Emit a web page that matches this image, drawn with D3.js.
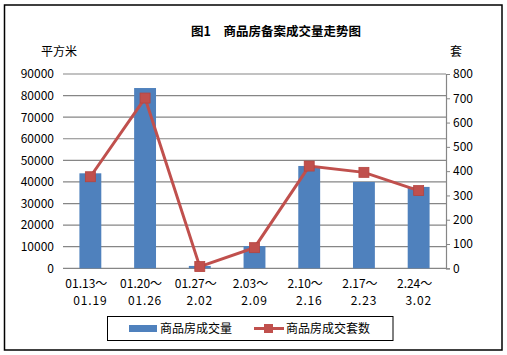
<!DOCTYPE html>
<html><head><meta charset="utf-8">
<script src="https://cdn.jsdelivr.net/npm/d3@7"></script>
<style>body{margin:0;background:#fff;}svg{display:block;}</style>
</head><body>
<script>
const categoriesTop = ["01.13～","01.20～","01.27～","2.03～","2.10～","2.17～","2.24～"];
const categoriesBottom = ["01.19","01.26","2.02","2.09","2.16","2.23","3.02"];
const areaValues = [44000, 83500, 1100, 10300, 47400, 40000, 37700];
const countValues = [377, 701, 7, 85, 421, 395, 320];
const leftTicks = [0,10000,20000,30000,40000,50000,60000,70000,80000,90000];
const rightTicks = [0,100,200,300,400,500,600,700,800];
const title = "图1　商品房备案成交量走势图";
const seriesNames = ["商品房成交量","商品房成交套数"];

(function(){
const W=507,H=355;
const svg=d3.select("body").append("svg").attr("width",W).attr("height",H);
const font="'Noto Sans CJK SC','DejaVu Sans',sans-serif";
svg.append("rect").attr("x",4.5).attr("y",5).attr("width",497.5).attr("height",345)
  .attr("fill","#fff").attr("stroke","#000").attr("stroke-width",1.5);

const pL=63,pR=446,pT=74,pB=268.3;
const idx=d3.range(categoriesTop.length);
const x=d3.scaleBand().domain(idx).range([pL,pR]).paddingInner(0.6).paddingOuter(0.3);
const xc=d3.scaleBand().domain(idx).range([pL,pR]);
const yL=d3.scaleLinear().domain([0,90000]).range([pB,pT]);
const yR=d3.scaleLinear().domain([0,800]).range([pB,pT]);

svg.append("g").selectAll("line").data(leftTicks).join("line")
  .attr("x1",pL).attr("x2",pR).attr("y1",d=>yL(d)).attr("y2",d=>yL(d))
  .attr("stroke","#868686").attr("stroke-width",1.2);

const gl=svg.append("g").attr("transform",`translate(${pL},0)`)
  .call(d3.axisLeft(yL).tickValues(leftTicks).tickSize(0).tickPadding(9).tickFormat(d3.format("d")));
gl.select(".domain").remove();
gl.selectAll("text").attr("font-family",font).attr("font-size",12).attr("fill","#000");

const gr=svg.append("g").attr("transform",`translate(${pR},0)`)
  .call(d3.axisRight(yR).tickValues(rightTicks).tickSize(4).tickPadding(3).tickFormat(d3.format("d")));
gr.select(".domain").attr("stroke","#868686").attr("stroke-width",1.2);
gr.selectAll(".tick line").attr("stroke","#868686");
gr.selectAll("text").attr("font-family",font).attr("font-size",12).attr("fill","#000");

svg.append("g").selectAll("rect").data(areaValues).join("rect")
  .attr("x",(d,i)=>x(i)).attr("width",x.bandwidth())
  .attr("y",d=>yL(d)).attr("height",d=>pB-yL(d)).attr("fill","#4F81BD");

const cx=i=>xc(i)+xc.bandwidth()/2;
svg.append("path").datum(countValues)
  .attr("d",d3.line().x((d,i)=>cx(i)).y(d=>yR(d)))
  .attr("fill","none").attr("stroke","#C0504D").attr("stroke-width",3);
svg.append("g").selectAll("rect").data(countValues).join("rect")
  .attr("x",(d,i)=>cx(i)-5).attr("y",d=>yR(d)-5).attr("width",10).attr("height",10)
  .attr("fill","#C0504D").attr("stroke","#B5443F").attr("stroke-width",0.8);

const gx=svg.append("g");
gx.selectAll("text.t").data(categoriesTop).join("text").attr("class","t")
  .attr("x",(d,i)=>cx(i)-4).attr("y",288).attr("text-anchor","middle")
  .attr("font-family",font).attr("font-size",12).text(d=>d);
gx.selectAll("text.b").data(categoriesBottom).join("text").attr("class","b")
  .attr("x",(d,i)=>cx(i)).attr("y",305).attr("text-anchor","middle")
  .attr("font-family",font).attr("font-size",12).attr("letter-spacing",0.8).text(d=>d);

svg.append("text").attr("x",276).attr("y",36).attr("text-anchor","middle")
  .attr("font-family",font).attr("font-size",12.5).attr("font-weight","bold").text(title);
svg.append("text").attr("x",41).attr("y",56).attr("font-family",font).attr("font-size",12).text("平方米");
svg.append("text").attr("x",450).attr("y",56).attr("font-family",font).attr("font-size",12).text("套");

svg.append("rect").attr("x",107.5).attr("y",316.5).attr("width",285.5).attr("height",24)
  .attr("fill","#fff").attr("stroke","#000").attr("stroke-width",1);
svg.append("rect").attr("x",129).attr("y",325).attr("width",28).attr("height",7).attr("fill","#4F81BD");
svg.append("text").attr("x",160).attr("y",333).attr("font-family",font).attr("font-size",12).text(seriesNames[0]);
svg.append("line").attr("x1",254).attr("x2",284).attr("y1",328.5).attr("y2",328.5)
  .attr("stroke","#C0504D").attr("stroke-width",3);
svg.append("rect").attr("x",264).attr("y",324).attr("width",9).attr("height",9).attr("fill","#C0504D");
svg.append("text").attr("x",286).attr("y",333).attr("font-family",font).attr("font-size",12).text(seriesNames[1]);
})();
</script>
</body></html>
